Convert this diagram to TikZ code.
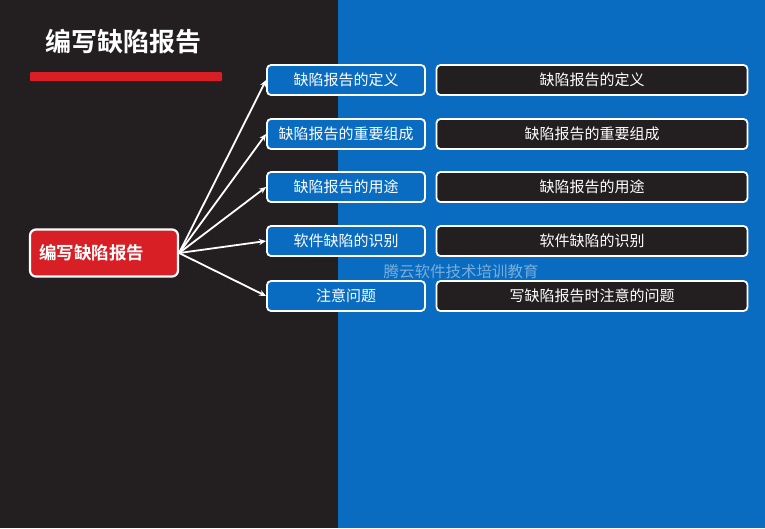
\documentclass[tikz,border=0pt]{standalone}
\usepackage{fontspec}
\setmainfont{Noto Sans CJK SC}[BoldFont={Noto Sans CJK SC Bold}]
\definecolor{fondo}{HTML}{231F20}
\definecolor{azul}{HTML}{0A6CC0}
\definecolor{rojo}{HTML}{D81F26}
\usetikzlibrary{calc, positioning, arrows.meta}

\begin{document}
\begin{tikzpicture}[x=1pt, y=-1pt,
  tema/.style={draw=white, line width=1.8pt, fill=azul, rounded corners=4pt,
               minimum width=158pt, minimum height=30pt, align=center,
               text=white, font=\fontsize{15}{17}\selectfont, inner sep=2pt},
  detalle/.style={tema, fill=fondo, minimum width=311pt},
  rama/.style={-{Stealth[length=7pt, width=6pt]}, white, line width=1.8pt},
]
\useasboundingbox (0,0) rectangle (765,528);
\fill[fondo] (0,0) rectangle (338,528);
\fill[azul] (338,0) rectangle (765,528);

% titulo
\node[text=white, font=\fontsize{26}{29}\selectfont\bfseries, anchor=west, inner sep=0pt] (titulo) at (45,42) {编写缺陷报告};
\fill[rojo, rounded corners=1pt] (30,72) rectangle (222,81);

% nodo central
\node[draw=white, line width=2.2pt, fill=rojo, rounded corners=6pt,
      minimum width=148pt, minimum height=47pt, text=white, inner sep=2pt,
      font=\fontsize{17.5}{20}\selectfont\bfseries, text width=130pt, align=left] (raiz) at (104,253) {编写缺陷报告};

% temas
\node[tema] (t1) at (346,80) {缺陷报告的定义};
\node[tema] (t2) at (346,134) {缺陷报告的重要组成};
\node[tema] (t3) at (346,187) {缺陷报告的用途};
\node[tema] (t4) at (346,241) {软件缺陷的识别};
\node[tema] (t5) at (346,296) {注意问题};

% detalles
\node[detalle] (d1) at (592,80) {缺陷报告的定义};
\node[detalle] (d2) at (592,134) {缺陷报告的重要组成};
\node[detalle] (d3) at (592,187) {缺陷报告的用途};
\node[detalle] (d4) at (592,241) {软件缺陷的识别};
\node[detalle] (d5) at (592,296) {写缺陷报告时注意的问题};

\draw[rama] (raiz.east) -- (t1.west);
\draw[rama] (raiz.east) -- (t2.west);
\draw[rama] (raiz.east) -- (t3.west);
\draw[rama] (raiz.east) -- (t4.west);
\draw[rama] (raiz.east) -- (t5.west);

% marca de agua
\node[text=azul!55!white, font=\fontsize{15.5}{17}\selectfont] (marca) at (461,272) {腾云软件技术培训教育};
\end{tikzpicture}
\end{document}
